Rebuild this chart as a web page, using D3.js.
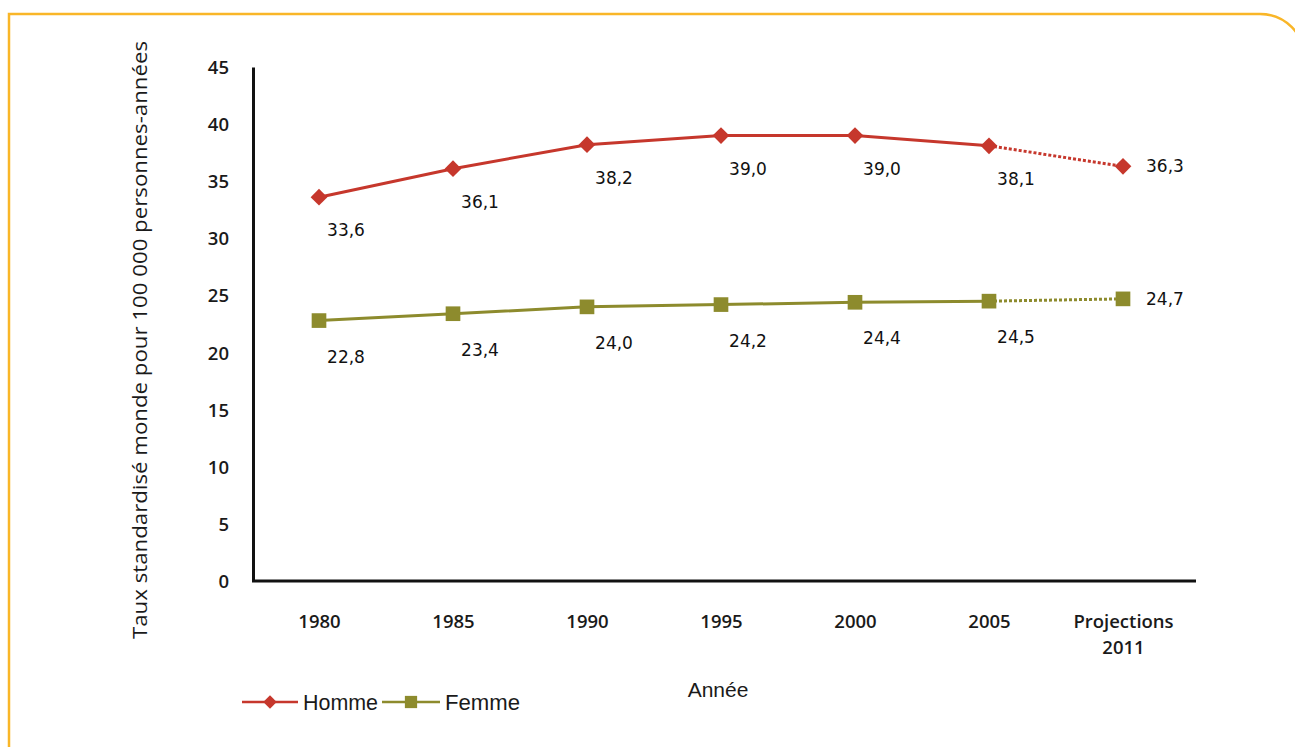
<!DOCTYPE html>
<html>
<head>
<meta charset="utf-8">
<script src="https://cdn.jsdelivr.net/npm/d3@7"></script>
<style>
  body { margin: 0; background: #fff; }
  svg { display: block; }
  .tick text { font-family: "Open Sans", sans-serif; font-size: 18.5px; font-weight: 600; fill: #1a1a1a; }
  .lbl { font-family: "DejaVu Sans", sans-serif; font-size: 17px; fill: #111; }
</style>
</head>
<body>
<svg width="1295" height="747"></svg>
<script>
const categories = ["1980", "1985", "1990", "1995", "2000", "2005", "Projections|2011"]
const homme = [33.6, 36.1, 38.2, 39.0, 39.0, 38.1, 36.3]
const femme = [22.8, 23.4, 24.0, 24.2, 24.4, 24.5, 24.7]
const yTicks = [0, 5, 10, 15, 20, 25, 30, 35, 40, 45]

const fmt = v => v.toFixed(1).replace('.', ',')

const svg = d3.select('svg')

// Orange frame, rounded top-right corner running off the page
svg.append('path')
  .attr('d', 'M9,760 L9,14 L1260,14 A45,45 0 0 1 1305,59 L1305,760')
  .attr('fill', 'none')
  .attr('stroke', '#f9b628')
  .attr('stroke-width', 2.5)

let x = d3.scalePoint()
  .domain(categories)
  .range([319, 1123])

let y = d3.scaleLinear()
  .domain([0, 45])
  .range([581, 67])

// Y axis
let yAxis = svg.append('g')
  .attr('transform', 'translate(253,0)')
  .call(d3.axisLeft(y).tickValues(yTicks).tickSize(0).tickPadding(24))
yAxis.select('.domain').attr('stroke', '#111').attr('stroke-width', 3)
yAxis.selectAll('.tick text').attr('dy', '0.35em')

// X axis
let xAxis = svg.append('g')
  .attr('transform', 'translate(0,581)')
  .call(d3.axisBottom(x).tickSize(0).tickPadding(0))
xAxis.select('.domain').remove()
xAxis.append('line')
  .attr('x1', 252).attr('x2', 1196)
  .attr('stroke', '#111').attr('stroke-width', 3)
xAxis.selectAll('.tick text').each(function(d) {
  let t = d3.select(this).text(null).attr('y', 0).attr('dy', null)
  d.split('|').forEach((part, i) => {
    t.append('tspan').attr('x', 0).attr('y', 47 + i * 26).text(part)
  })
})

// Axis titles
svg.append('text')
  .attr('transform', 'translate(147,340) rotate(-90)')
  .attr('text-anchor', 'middle')
  .attr('textLength', 598)
  .attr('lengthAdjust', 'spacingAndGlyphs')
  .style('font-family', '"Open Sans", sans-serif')
  .style('font-size', '20px')
  .attr('fill', '#1a1a1a')
  .text('Taux standardisé monde pour 100 000 personnes-années')

svg.append('text')
  .attr('x', 718).attr('y', 697)
  .attr('text-anchor', 'middle')
  .style('font-family', '"Liberation Sans", sans-serif')
  .style('font-size', '21px')
  .attr('fill', '#1a1a1a')
  .text('Année')

// custom wide diamond = rotated square
const diamond = d3.symbol().type(d3.symbolSquare).size(140)
const square = d3.symbol().type(d3.symbolSquare).size(215)

const series = [
  { name: 'Homme', values: homme, color: '#c6372c', mark: diamond, rot: 45, dy: 39 },
  { name: 'Femme', values: femme, color: '#8d8b2d', mark: square, rot: 0, dy: 42 }
]

let line = d3.line()
  .x(d => x(d.cat))
  .y(d => y(d.v))

series.forEach(s => {
  let pts = s.values.map((v, i) => ({ cat: categories[i], v }))
  let last = pts.length - 1

  svg.append('path')
    .datum(pts.slice(0, last))
    .attr('d', line)
    .attr('fill', 'none')
    .attr('stroke', s.color)
    .attr('stroke-width', 3)

  // Projection segment: dotted
  svg.append('path')
    .datum(pts.slice(last - 1))
    .attr('d', line)
    .attr('fill', 'none')
    .attr('stroke', s.color)
    .attr('stroke-width', 3)
    .attr('stroke-dasharray', '3,2')

  svg.append('g').selectAll('path')
    .data(pts)
    .enter()
    .append('path')
    .attr('d', s.mark)
    .attr('transform', d => `translate(${x(d.cat)},${y(d.v)}) rotate(${s.rot})`)
    .attr('fill', s.color)

  svg.append('g').selectAll('text')
    .data(pts)
    .enter()
    .append('text')
    .attr('class', 'lbl')
    .attr('x', (d, i) => i === last ? x(d.cat) + 23 : x(d.cat) + 27)
    .attr('y', (d, i) => i === last ? y(d.v) + 6 : y(d.v) + s.dy)
    .attr('text-anchor', (d, i) => i === last ? 'start' : 'middle')
    .text(d => fmt(d.v))
})

// Legend
let leg = svg.append('g').attr('transform', 'translate(0,702)')
let legItems = [
  { s: series[0], x0: 242, x1: 298, tx: 303 },
  { s: series[1], x0: 382, x1: 440, tx: 445 }
]
legItems.forEach(it => {
  leg.append('line')
    .attr('x1', it.x0).attr('x2', it.x1)
    .attr('stroke', it.s.color).attr('stroke-width', 2.5)
  leg.append('path')
    .attr('d', d3.symbol().type(d3.symbolSquare).size(it.s.rot ? 90 : 150))
    .attr('transform', `translate(${(it.x0 + it.x1) / 2},0) rotate(${it.s.rot})`)
    .attr('fill', it.s.color)
  leg.append('text')
    .attr('x', it.tx).attr('y', 8)
    .attr('textLength', 75)
    .attr('lengthAdjust', 'spacingAndGlyphs')
    .style('font-family', '"Liberation Sans", sans-serif')
    .style('font-size', '22px')
    .attr('fill', '#1a1a1a')
    .text(it.s.name)
})
</script>
</body>
</html>
